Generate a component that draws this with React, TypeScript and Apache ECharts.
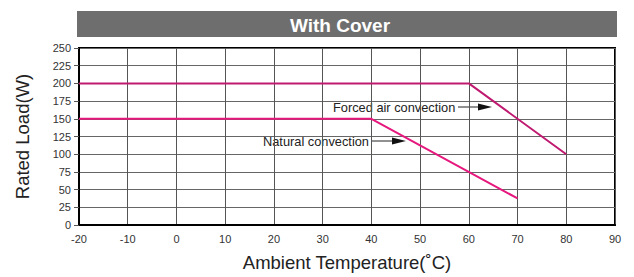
import React, { useEffect, useRef } from "react";
import * as echarts from "echarts";

const forcedTemps = [-20, 60, 80];
const forcedLoads = [200, 200, 100];
const naturalTemps = [-20, 40, 70];
const naturalLoads = [150, 150, 37.5];
const xTicks = { min: -20, max: 90, interval: 10 };
const yTicks = { min: 0, max: 250, interval: 25 };

const FONT = "'Liberation Sans', Arial, sans-serif";

export default function App() {
  const ref = useRef<HTMLDivElement>(null);
  useEffect(() => {
    if (!ref.current) return;
    const chart = echarts.init(ref.current, undefined, { renderer: "svg" });
    const arrow = (x1: number, x2: number, y: number) => [
      { type: "line", shape: { x1, y1: y, x2: x2 - 12, y2: y }, style: { stroke: "#222", lineWidth: 1 } },
      { type: "polygon", shape: { points: [[x2 - 14, y - 3.5], [x2, y], [x2 - 14, y + 3.5]] }, style: { fill: "#111" } },
    ];
    chart.setOption({
      animation: false,
      textStyle: { fontFamily: FONT },
      grid: { left: 79, right: 19, top: 48, bottom: 51, show: true, borderColor: "#000", borderWidth: 2, backgroundColor: "#fff" },
      xAxis: {
        type: "value",
        min: xTicks.min,
        max: xTicks.max,
        interval: xTicks.interval,
        name: "Ambient Temperature(˚C)",
        nameLocation: "middle",
        nameGap: 28,
        nameTextStyle: { fontSize: 18.5, color: "#222", fontFamily: FONT },
        axisLine: { show: true, onZero: false, lineStyle: { color: "#000", width: 2 } },
        axisTick: { show: false },
        axisLabel: { fontSize: 11, color: "#333", margin: 8, fontFamily: FONT },
        splitLine: { show: true, lineStyle: { color: "#555", width: 1 } },
      },
      yAxis: {
        type: "value",
        min: yTicks.min,
        max: yTicks.max,
        interval: yTicks.interval,
        name: "Rated Load(W)",
        nameLocation: "middle",
        nameGap: 47,
        nameTextStyle: { fontSize: 18.5, color: "#222", fontFamily: FONT },
        axisLine: { show: true, onZero: false, lineStyle: { color: "#000", width: 2 } },
        axisTick: { show: true, length: 5, lineStyle: { color: "#555" } },
        axisLabel: { fontSize: 11, color: "#333", margin: 8, fontFamily: FONT },
        splitLine: { show: true, lineStyle: { color: "#666", width: 1 } },
      },
      series: [
        {
          type: "line",
          data: forcedTemps.map((t, i) => [t, forcedLoads[i]]),
          symbol: "none",
          lineStyle: { color: "#bf1a70", width: 2 },
        },
        {
          type: "line",
          data: naturalTemps.map((t, i) => [t, naturalLoads[i]]),
          symbol: "none",
          lineStyle: { color: "#e6187e", width: 2 },
        },
      ],
      graphic: [
        { type: "rect", shape: { x: 77, y: 11, width: 540, height: 26 }, style: { fill: "#6e6e6e" } },
        {
          type: "text",
          x: 340,
          y: 25,
          style: { text: "With Cover", fill: "#fff", font: `bold 19px ${FONT}`, align: "center", verticalAlign: "middle" },
        },
        {
          type: "text",
          x: 333,
          y: 107,
          style: { text: "Forced air convection", fill: "#222", font: `12.8px ${FONT}`, align: "left", verticalAlign: "middle" },
        },
        ...arrow(458, 492, 107),
        {
          type: "text",
          x: 263,
          y: 141,
          style: { text: "Natural convection", fill: "#222", font: `12.8px ${FONT}`, align: "left", verticalAlign: "middle" },
        },
        ...arrow(372, 406, 141),
      ],
    });
    return () => chart.dispose();
  }, []);
  return <div ref={ref} style={{ width: 634, height: 277, position: "absolute", left: 0, top: 0 }} />;
}
